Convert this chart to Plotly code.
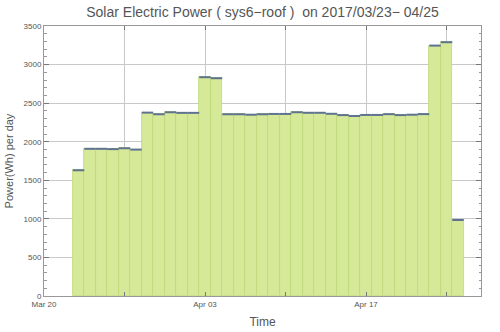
import datetime as dt
import plotly.graph_objects as go

start_date = "2017-03-23"
power_wh = [1630, 1908, 1908, 1904, 1915, 1898,
            2377, 2356, 2382, 2374, 2374,
            2836, 2823,
            2356, 2356, 2350, 2356, 2360, 2360,
            2382, 2375, 2375, 2362, 2345, 2333,
            2347, 2347, 2357, 2345, 2350, 2358,
            3246, 3290, 985]
tick_dates = ["2017-03-20", "2017-03-27", "2017-04-03", "2017-04-10", "2017-04-17", "2017-04-24"]
tick_text = ["Mar 20", "", "Apr 03", "", "Apr 17", ""]

d0 = dt.datetime.fromisoformat(start_date)
dates = [d0 + dt.timedelta(days=i) for i in range(len(power_wh))]
DAY_MS = 86400000

# top step segments
seg_x, seg_y = [], []
for d, v in zip(dates, power_wh):
    seg_x += [d - dt.timedelta(hours=12), d + dt.timedelta(hours=12), None]
    seg_y += [v, v, None]

fig = go.Figure()
fig.add_trace(go.Bar(
    x=dates, y=power_wh, width=DAY_MS,
    marker=dict(color="rgb(214,233,153)", line=dict(color="rgb(190,216,118)", width=0.8)),
    hoverinfo="x+y", showlegend=False,
))
fig.add_trace(go.Scatter(
    x=seg_x, y=seg_y, mode="lines",
    line=dict(color="rgb(95,115,145)", width=2),
    hoverinfo="skip", showlegend=False,
))

axis_font = dict(family="Liberation Sans, Arial, sans-serif", size=8, color="#555")
fig.update_layout(
    width=500, height=332,
    margin=dict(l=44, r=19, t=26, b=36, autoexpand=False),
    paper_bgcolor="white", plot_bgcolor="white",
    bargap=0,
    title=dict(text="Solar Electric Power ( sys6\u2212roof )\u00a0 on 2017/03/23\u2212 04/25",
               x=0.525, xanchor="center", y=0.963, yanchor="middle",
               font=dict(family="Liberation Sans, Arial, sans-serif", size=14, color="#555")),
    xaxis=dict(
        type="date", range=["2017-03-20", "2017-04-27"],
        tickvals=tick_dates, ticktext=tick_text,
        ticks="inside", ticklen=4, tickcolor="#777",
        showgrid=True, gridcolor="#c8c8c8", gridwidth=1,
        showline=True, linecolor="#999", linewidth=1, mirror="allticks",
        tickfont=axis_font, zeroline=False, automargin=False,
        title=dict(text="Time", standoff=10,
                   font=dict(family="Liberation Sans, Arial, sans-serif", size=12, color="#555")),
    ),
    yaxis=dict(
        range=[0, 3500], tickvals=[0, 500, 1000, 1500, 2000, 2500, 3000, 3500],
        ticks="inside", ticklen=5, tickcolor="#777",
        minor=dict(ticks="inside", ticklen=2.5, dtick=100, tickcolor="#999", showgrid=False),
        showgrid=True, gridcolor="#c8c8c8", gridwidth=1,
        showline=True, linecolor="#999", linewidth=1, mirror="allticks",
        tickfont=axis_font, zeroline=False, automargin=False,
        title=dict(text="Power(Wh) per day", standoff=7,
                   font=dict(family="Liberation Sans, Arial, sans-serif", size=11, color="#555")),
    ),
)

fig.write_html("out.html")
